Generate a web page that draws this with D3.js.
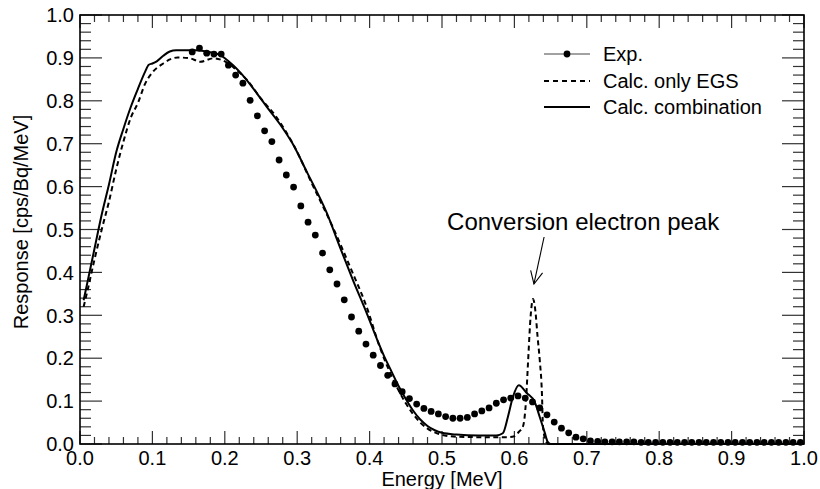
<!DOCTYPE html>
<html>
<head>
<meta charset="utf-8">
<script src="https://cdn.jsdelivr.net/npm/d3@7"></script>
<style>
  html, body { margin: 0; padding: 0; background: #fff; }
  svg { display: block; }
  text { font-family: "Liberation Sans", Arial, Helvetica, sans-serif; fill: #000; }
</style>
</head>
<body>
<svg id="chart" width="820" height="489"></svg>
<script>
// ---------------- DATA ----------------
const xTicks = [0.0, 0.1, 0.2, 0.3, 0.4, 0.5, 0.6, 0.7, 0.8, 0.9, 1.0];
const yTicks = [0.0, 0.1, 0.2, 0.3, 0.4, 0.5, 0.6, 0.7, 0.8, 0.9, 1.0];
const xTickLabels = ["0.0","0.1","0.2","0.3","0.4","0.5","0.6","0.7","0.8","0.9","1.0"];
const yTickLabels = ["0.0","0.1","0.2","0.3","0.4","0.5","0.6","0.7","0.8","0.9","1.0"];

const seriesNames = ["Exp.", "Calc. only EGS", "Calc. combination"];

// Experimental points
const expEnergy = [
  0.155,0.165,0.175,0.185,0.195,0.205,0.215,0.225,0.235,0.245,
  0.255,0.265,0.275,0.285,0.295,0.305,0.315,0.325,0.335,0.345,
  0.355,0.365,0.375,0.385,0.395,0.405,0.415,0.425,0.435,0.445,
  0.455,0.465,0.475,0.485,0.495,0.505,0.515,0.525,0.535,0.545,
  0.555,0.565,0.575,0.585,0.595,0.605,0.615,0.625,0.635,0.645,
  0.655,0.665,0.675,0.685,0.695,0.705,0.715,0.725,0.735,0.745,
  0.755,0.765,0.775,0.785,0.795,0.805,0.815,0.825,0.835,0.845,
  0.855,0.865,0.875,0.885,0.895,0.905,0.915,0.925,0.935,0.945,
  0.955,0.965,0.975,0.985,0.995
];
const expResponse = [
  0.914,0.923,0.911,0.909,0.909,0.883,0.860,0.841,0.801,0.765,
  0.730,0.705,0.662,0.627,0.599,0.555,0.517,0.487,0.445,0.406,
  0.373,0.336,0.296,0.263,0.233,0.207,0.183,0.160,0.140,0.122,
  0.106,0.093,0.083,0.076,0.070,0.064,0.060,0.060,0.062,0.070,
  0.077,0.084,0.095,0.103,0.107,0.112,0.107,0.098,0.084,0.068,
  0.051,0.037,0.026,0.016,0.012,0.007,0.006,0.005,0.005,0.005,
  0.005,0.005,0.004,0.004,0.004,0.004,0.004,0.004,0.004,0.004,
  0.004,0.004,0.004,0.004,0.004,0.004,0.004,0.004,0.004,0.004,
  0.004,0.004,0.004,0.004,0.004
];

// Calc. only EGS (dashed)
const egsEnergy = [
  0.005,0.010,0.020,0.030,0.040,0.050,0.060,0.070,0.080,0.090,
  0.100,0.115,0.125,0.135,0.152,0.166,0.184,0.203,0.216,0.230,
  0.250,0.270,0.295,0.322,0.349,0.373,0.396,0.414,0.430,0.440,
  0.450,0.460,0.470,0.480,0.490,0.500,0.520,0.550,0.590,0.600,
  0.606,0.612,0.616,0.619,0.6225,0.6257,0.629,0.632,0.635,0.638,
  0.6395,0.644,0.648,1.000
];
const egsResponse = [
  0.320,0.355,0.430,0.500,0.565,0.640,0.705,0.760,0.795,0.840,
  0.866,0.887,0.897,0.901,0.899,0.891,0.899,0.889,0.872,0.850,
  0.805,0.765,0.697,0.601,0.506,0.413,0.319,0.226,0.160,0.125,
  0.095,0.070,0.050,0.036,0.027,0.021,0.017,0.016,0.016,0.018,
  0.028,0.042,0.100,0.196,0.300,0.338,0.310,0.250,0.196,0.119,
  0.040,0.005,0.000,0.000
];

// Calc. combination (solid)
const combEnergy = [
  0.005,0.010,0.020,0.030,0.040,0.050,0.060,0.070,0.080,0.090,
  0.095,0.100,0.106,0.115,0.124,0.133,0.160,0.180,0.193,0.210,
  0.230,0.251,0.258,0.276,0.293,0.314,0.341,0.359,0.377,0.396,
  0.410,0.420,0.430,0.440,0.450,0.460,0.470,0.480,0.490,0.500,
  0.520,0.550,0.575,0.584,0.591,0.598,0.606,0.617,0.628,0.635,
  0.642,0.646,0.650,1.000
];
const combResponse = [
  0.335,0.375,0.455,0.535,0.605,0.680,0.735,0.785,0.828,0.868,
  0.884,0.887,0.892,0.905,0.915,0.918,0.918,0.913,0.907,0.885,
  0.849,0.802,0.786,0.746,0.702,0.632,0.538,0.459,0.382,0.305,
  0.245,0.205,0.170,0.135,0.105,0.078,0.057,0.042,0.032,0.026,
  0.022,0.020,0.020,0.025,0.063,0.110,0.137,0.119,0.098,0.063,
  0.026,0.005,0.000,0.000
];

// Annotation (in data units)
const annotationText = "Conversion electron peak";
const annotationPos = [0.507, 0.499];
const arrowFrom = [0.641, 0.4825];
const arrowTo = [0.627, 0.373];

// ---------------- LAYOUT ----------------
const W = 820, H = 489;
const L = 80, R = 804, T = 15, B = 444;
const FONT = 20;

const svg = d3.select("#chart");
const x = d3.scaleLinear().domain([0, 1]).range([L, R]);
const y = d3.scaleLinear().domain([0, 1]).range([B, T]);

const tickColor = "#333";
const g = svg.append("g");

const xMinor = d3.range(0, 51).map(i => i / 50);
const yMinor = d3.range(0, 51).map(i => i / 50);
const isMajor = v => Math.abs(v * 10 - Math.round(v * 10)) < 1e-6;

xMinor.forEach(v => {
  const len = isMajor(v) ? 13 : 7;
  g.append("line").attr("x1", x(v)).attr("x2", x(v)).attr("y1", B).attr("y2", B - len)
    .attr("stroke", tickColor).attr("stroke-width", 1.2);
  g.append("line").attr("x1", x(v)).attr("x2", x(v)).attr("y1", T).attr("y2", T + len)
    .attr("stroke", tickColor).attr("stroke-width", 1.2);
});
yMinor.forEach(v => {
  const len = isMajor(v) ? 22 : 11;
  g.append("line").attr("x1", L).attr("x2", L + len).attr("y1", y(v)).attr("y2", y(v))
    .attr("stroke", tickColor).attr("stroke-width", 1.2);
  g.append("line").attr("x1", R).attr("x2", R - len).attr("y1", y(v)).attr("y2", y(v))
    .attr("stroke", tickColor).attr("stroke-width", 1.2);
});

g.append("rect").attr("x", L).attr("y", T).attr("width", R - L).attr("height", B - T)
  .attr("fill", "none").attr("stroke", "#000").attr("stroke-width", 1.6);

xTicks.forEach((v, i) => {
  g.append("text").attr("x", x(v)).attr("y", 465).attr("text-anchor", "middle")
    .attr("font-size", FONT).text(xTickLabels[i]);
});
yTicks.forEach((v, i) => {
  g.append("text").attr("x", 74).attr("y", y(v)).attr("dy", "0.36em").attr("text-anchor", "end")
    .attr("font-size", FONT).text(yTickLabels[i]);
});

svg.append("text").attr("x", (L + R) / 2).attr("y", 486).attr("text-anchor", "middle")
  .attr("font-size", FONT).text("Energy [MeV]");
svg.append("text").attr("transform", "translate(28,222) rotate(-90)").attr("text-anchor", "middle")
  .attr("font-size", FONT).text("Response [cps/Bq/MeV]");

// ---------------- SERIES ----------------
const line = d3.line().x(d => x(d[0])).y(d => y(d[1])).curve(d3.curveMonotoneX);

const egsData = egsEnergy.map((e, i) => [e, egsResponse[i]]);
const combData = combEnergy.map((e, i) => [e, combResponse[i]]);
const expData = expEnergy.map((e, i) => [e, expResponse[i]]);

svg.append("path").datum(egsData).attr("d", line).attr("fill", "none")
  .attr("stroke", "#000").attr("stroke-width", 2).attr("stroke-dasharray", "5,3.5");
svg.append("path").datum(combData).attr("d", line).attr("fill", "none")
  .attr("stroke", "#000").attr("stroke-width", 2);

svg.append("g").selectAll("circle").data(expData).join("circle")
  .attr("cx", d => x(d[0])).attr("cy", d => y(d[1])).attr("r", 3.4).attr("fill", "#000");

// ---------------- ANNOTATION ----------------
svg.append("text").attr("x", x(annotationPos[0])).attr("y", y(annotationPos[1]))
  .attr("font-size", 24).text(annotationText);
{
  const x1 = x(arrowFrom[0]), y1 = y(arrowFrom[1]);
  const x2 = x(arrowTo[0]), y2 = y(arrowTo[1]);
  const ang = Math.atan2(y2 - y1, x2 - x1);
  const hl = 14, ha = 0.45;
  const w1 = [x2 - hl * Math.cos(ang - ha), y2 - hl * Math.sin(ang - ha)];
  const w2 = [x2 - hl * Math.cos(ang + ha), y2 - hl * Math.sin(ang + ha)];
  svg.append("line").attr("x1", x1).attr("y1", y1).attr("x2", x2).attr("y2", y2)
    .attr("stroke", "#000").attr("stroke-width", 1.1);
  svg.append("path").attr("d", `M${w1[0]},${w1[1]}L${x2},${y2}L${w2[0]},${w2[1]}`)
    .attr("fill", "none").attr("stroke", "#000").attr("stroke-width", 1.1);
}

// ---------------- LEGEND ----------------
const legY = [54, 81, 107];
const lx1 = 544, lx2 = 590, ltx = 603;
const leg = svg.append("g");
leg.append("line").attr("x1", lx1).attr("x2", lx2).attr("y1", legY[0]).attr("y2", legY[0])
  .attr("stroke", "#444").attr("stroke-width", 1);
leg.append("circle").attr("cx", (lx1 + lx2) / 2).attr("cy", legY[0]).attr("r", 3.4).attr("fill", "#000");
leg.append("line").attr("x1", lx1).attr("x2", lx2).attr("y1", legY[1]).attr("y2", legY[1])
  .attr("stroke", "#000").attr("stroke-width", 2).attr("stroke-dasharray", "5,4");
leg.append("line").attr("x1", lx1).attr("x2", lx2).attr("y1", legY[2]).attr("y2", legY[2])
  .attr("stroke", "#000").attr("stroke-width", 2);
seriesNames.forEach((n, i) => {
  leg.append("text").attr("x", ltx).attr("y", legY[i]).attr("dy", "0.36em")
    .attr("font-size", FONT).text(n);
});
</script>
</body>
</html>
